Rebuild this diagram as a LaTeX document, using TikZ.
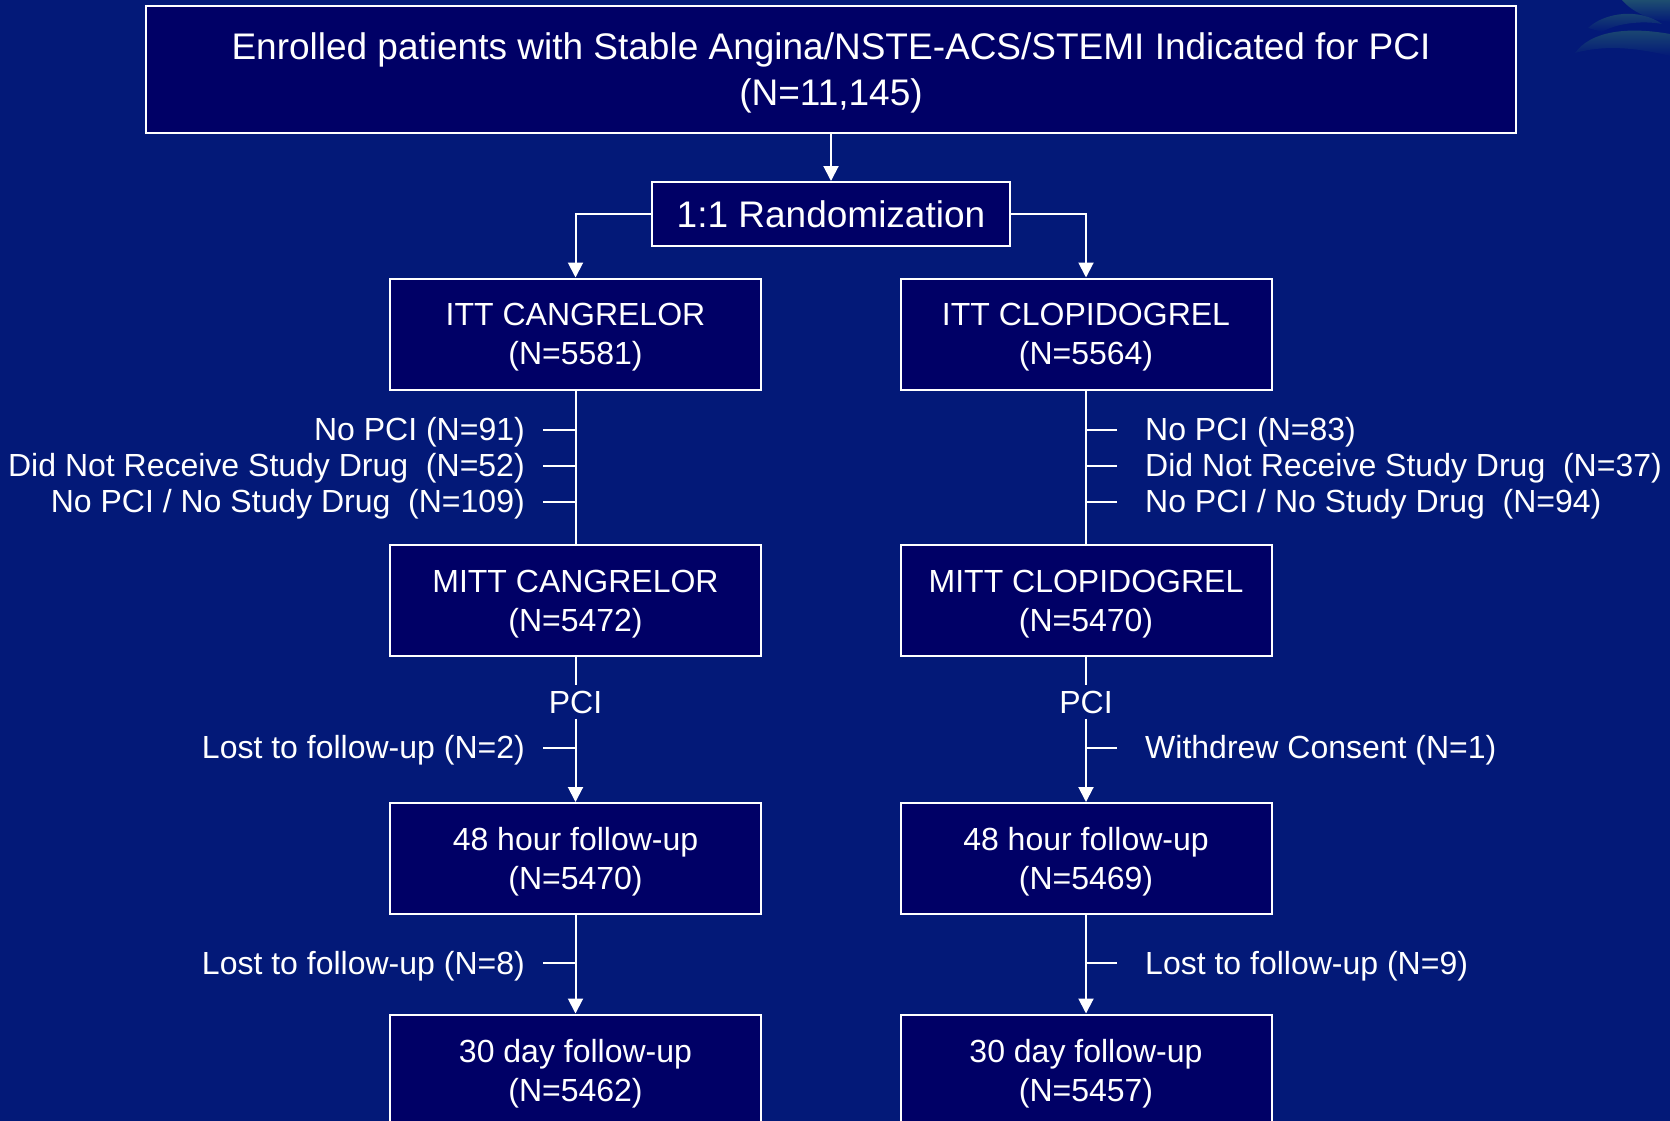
\documentclass[tikz,border=0pt]{standalone}
\usepackage{fontspec}
\setmainfont{Liberation Sans}
\usetikzlibrary{arrows.meta}
\definecolor{bg}{RGB}{3,25,120}
\definecolor{boxfill}{RGB}{0,0,102}
\definecolor{deco}{RGB}{30,78,112}
\begin{document}
\begin{tikzpicture}[x=1pt,y=-1pt,
  box/.style={draw=white, line width=2pt, fill=boxfill, text=white, align=center, inner sep=0pt, text depth=0pt, font=\fontsize{32}{39}\selectfont},
  conn/.style={draw=white, line width=2pt},
  arr/.style={conn, -{Triangle[length=15pt,width=15pt]}},
  lbl/.style={text=white, font=\fontsize{32}{38}\selectfont, inner sep=0pt},
  sidebox/.style={box, minimum width=371, minimum height=111}]
\useasboundingbox (0,0) rectangle (1670,1121);
\fill[bg] (0,0) rectangle (1670,1121);
\begin{scope}
\clip (0,0) rectangle (1670,1121);
% faint decoration top right
\shade[top color=deco, bottom color=bg] (1622,0) .. controls (1632,12) and (1650,20) .. (1670,22) -- (1670,0) -- cycle;
\shade[top color=deco, bottom color=bg] (1588,28) .. controls (1605,12) and (1640,8) .. (1662,24) .. controls (1640,20) and (1615,24) .. (1602,32) -- cycle;
\shade[top color=deco, bottom color=bg] (1575,53) .. controls (1590,32) and (1625,26) .. (1670,34) -- (1670,56) .. controls (1630,46) and (1600,46) .. (1575,53) -- cycle;

\node[box, minimum width=1370, minimum height=127, font=\fontsize{37}{46}\selectfont] (top) at (831,69.5) {Enrolled patients with Stable Angina/NSTE-ACS/STEMI Indicated for PCI\\(N=11,145)};
\node[box, minimum width=358, minimum height=64, font=\fontsize{37}{40}\selectfont] (rand) at (831,214) {1:1 Randomization};

\node[sidebox] (ittL) at (575.5,334) {ITT CANGRELOR\\(N=5581)};
\node[sidebox] (ittR) at (1086,334) {ITT CLOPIDOGREL\\(N=5564)};
\node[sidebox] (mittL) at (575.5,600.5) {MITT CANGRELOR\\(N=5472)};
\node[sidebox] (mittR) at (1086,600.5) {MITT CLOPIDOGREL\\(N=5470)};
\node[sidebox] (hL) at (575.5,858.5) {48 hour follow-up\\(N=5470)};
\node[sidebox] (hR) at (1086,858.5) {48 hour follow-up\\(N=5469)};
\node[sidebox] (dL) at (575.5,1070) {30 day follow-up\\(N=5462)};
\node[sidebox] (dR) at (1086,1070) {30 day follow-up\\(N=5457)};

\draw[arr] (top.south) -- (rand.north);
\draw[arr] (rand.west) -| (ittL.north);
\draw[arr] (rand.east) -| (ittR.north);
\draw[conn] (ittL.south) -- (mittL.north);
\draw[conn] (ittR.south) -- (mittR.north);

% left exclusion labels
\node[lbl, anchor=east] (lL1) at (525,432) {No PCI (N=91)};
\node[lbl, anchor=east] (lL2) at (525,468) {Did Not Receive Study Drug\ \ (N=52)};
\node[lbl, anchor=east] (lL3) at (525,504) {No PCI / No Study Drug\ \ (N=109)};
\foreach \n in {lL1,lL2,lL3} \draw[conn] ([xshift=18pt,yshift=2pt]\n.east) -- ([yshift=2pt]\n.east -| ittL.south);
% right exclusion labels
\node[lbl, anchor=west] (lR1) at (1145,432) {No PCI (N=83)};
\node[lbl, anchor=west] (lR2) at (1145,468) {Did Not Receive Study Drug\ \ (N=37)};
\node[lbl, anchor=west] (lR3) at (1145,504) {No PCI / No Study Drug\ \ (N=94)};
\foreach \n in {lR1,lR2,lR3} \draw[conn] ([xshift=-28pt,yshift=2pt]\n.west) -- ([yshift=2pt]\n.west -| ittR.south);

% PCI
\node[lbl, inner ysep=5pt] (pciL) at (575.5,702) {PCI};
\node[lbl, inner ysep=5pt] (pciR) at (1086,702) {PCI};
\draw[conn] (mittL.south) -- (pciL.north);
\draw[conn] (mittR.south) -- (pciR.north);
\draw[arr] (pciL.south) -- (hL.north);
\draw[arr] (pciR.south) -- (hR.north);
\node[lbl, anchor=east] (lost2) at (525,750) {Lost to follow-up (N=2)};
\node[lbl, anchor=west] (wd1) at (1145,750) {Withdrew Consent (N=1)};
\draw[conn] ([xshift=18pt,yshift=2pt]lost2.east) -- ([yshift=2pt]lost2.east -| hL.north);
\draw[conn] ([xshift=-28pt,yshift=2pt]wd1.west) -- ([yshift=2pt]wd1.west -| hR.north);

\draw[arr] (hL.south) -- (dL.north);
\draw[arr] (hR.south) -- (dR.north);
\node[lbl, anchor=east] (lost8) at (525,966) {Lost to follow-up (N=8)};
\node[lbl, anchor=west] (lost9) at (1145,966) {Lost to follow-up (N=9)};
\draw[conn] ([xshift=18pt,yshift=3pt]lost8.east) -- ([yshift=3pt]lost8.east -| hL.south);
\draw[conn] ([xshift=-28pt,yshift=3pt]lost9.west) -- ([yshift=3pt]lost9.west -| hR.south);
\end{scope}
\end{tikzpicture}
\end{document}
